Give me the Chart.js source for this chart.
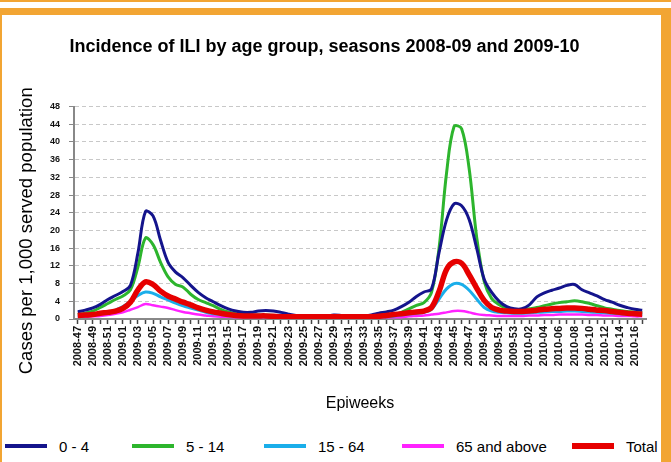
<!DOCTYPE html>
<html>
<head>
<meta charset="utf-8">
<script src="https://cdn.jsdelivr.net/npm/chart.js@4"></script>
<style>
  html, body { margin: 0; padding: 0; background: #fff; }
  body { width: 671px; height: 462px; position: relative; overflow: hidden; font-family: Arial, "Liberation Sans", sans-serif; }
  .frameTop { position: absolute; left: 0; top: 0; width: 671px; height: 2px; background: #f2a533; }
  .frame { position: absolute; left: 0; top: 8px; width: 659px; height: 470px; border-top: 7px solid #f2a533; border-left: 2px solid #f2a533; border-right: 10px solid #f2a533; }
  .chartBox { position: absolute; left: 3px; top: 16px; width: 657px; height: 410px; }
  .legend { position: absolute; left: 0; top: 434px; width: 660px; height: 24px; }
  .legend .item { position: absolute; top: 0; height: 24px; display: flex; align-items: center; font-size: 15px; color: #000; }
  .legend .line { width: 42px; margin-right: 12px; }
</style>
</head>
<body>
<div class="frameTop"></div>
<div class="frame"></div>
<div class="chartBox"><canvas id="iliChart" width="657" height="410"></canvas></div>
<div class="legend" id="iliLegend"></div>

<script>
// --- Adatok: epihetek 2008-47 .. 2010-17 ---
const weeks = [
  '2008-47','2008-48','2008-49','2008-50','2008-51','2008-52',
  '2009-01','2009-02','2009-03','2009-04','2009-05','2009-06','2009-07','2009-08','2009-09','2009-10',
  '2009-11','2009-12','2009-13','2009-14','2009-15','2009-16','2009-17','2009-18','2009-19','2009-20',
  '2009-21','2009-22','2009-23','2009-24','2009-25','2009-26','2009-27','2009-28','2009-29','2009-30',
  '2009-31','2009-32','2009-33','2009-34','2009-35','2009-36','2009-37','2009-38','2009-39','2009-40',
  '2009-41','2009-42','2009-43','2009-44','2009-45','2009-46','2009-47','2009-48','2009-49','2009-50',
  '2009-51','2009-52','2009-53',
  '2010-01','2010-02','2010-03','2010-04','2010-05','2010-06','2010-07','2010-08','2010-09','2010-10',
  '2010-11','2010-12','2010-13','2010-14','2010-15','2010-16','2010-17'
];

const age0to4 = [
  1.6, 2.0, 2.5, 3.3, 4.4, 5.3, 6.2, 7.6, 15.0, 24.3, 23.3, 17.8, 12.8, 10.6, 9.3, 7.6,
  6.0, 4.8, 3.9, 3.0, 2.3, 1.8, 1.5, 1.5, 1.8, 1.9, 1.8, 1.5, 1.1, 0.8, 0.7, 0.6,
  0.6, 0.6, 0.9, 0.8, 0.6, 0.6, 0.7, 0.9, 1.3, 1.6, 2.0, 2.8, 3.8, 5.1, 6.1, 6.8,
  15.0, 22.4, 26.0, 25.6, 22.5, 16.0, 9.0, 6.0, 4.0, 2.8, 2.3, 2.3, 3.2, 5.0, 5.9, 6.5,
  7.0, 7.6, 7.8, 6.6, 5.9, 5.2, 4.4, 3.8, 3.1, 2.6, 2.2, 2.0
];
const age5to14 = [
  1.0, 1.3, 1.8, 2.6, 3.5, 4.4, 5.2, 6.6, 11.8, 18.3, 16.8, 12.8, 9.5, 7.8, 7.2, 5.6,
  4.4, 3.7, 3.0, 2.2, 1.6, 1.2, 1.0, 0.9, 0.9, 0.9, 0.8, 0.7, 0.6, 0.5, 0.5, 0.5,
  0.5, 0.5, 0.6, 0.5, 0.5, 0.5, 0.5, 0.6, 0.7, 0.8, 1.0, 1.5, 2.3, 3.1, 3.7, 6.0,
  16.0, 33.0, 43.5, 43.0, 34.0, 18.5, 8.5, 4.6, 3.2, 2.4, 2.1, 2.0, 2.3, 2.6, 3.0, 3.4,
  3.7, 3.9, 4.1, 3.9, 3.5, 3.0, 2.5, 2.2, 1.9, 1.7, 1.5, 1.4
];
const age15to64 = [
  0.7, 0.8, 1.0, 1.2, 1.5, 2.0, 2.8, 4.0, 5.3, 6.1, 5.8, 5.0, 4.3, 3.6, 3.0, 2.5,
  2.0, 1.5, 1.2, 1.0, 0.8, 0.7, 0.6, 0.5, 0.5, 0.5, 0.5, 0.5, 0.5, 0.5, 0.5, 0.5,
  0.5, 0.5, 0.5, 0.5, 0.5, 0.5, 0.5, 0.5, 0.5, 0.5, 0.7, 0.9, 1.1, 1.3, 1.5, 2.2,
  4.5, 6.8, 8.0, 7.8, 6.5, 4.5, 2.6, 1.8, 1.5, 1.4, 1.3, 1.3, 1.4, 1.5, 1.6, 1.7,
  1.7, 1.8, 1.8, 1.7, 1.6, 1.5, 1.4, 1.3, 1.2, 1.1, 1.0, 1.0
];
const age65plus = [
  0.5, 0.5, 0.6, 0.7, 0.9, 1.2, 1.5, 2.1, 2.7, 3.4, 3.1, 2.8, 2.5, 2.0, 1.6, 1.3,
  1.0, 0.8, 0.6, 0.5, 0.5, 0.4, 0.4, 0.4, 0.4, 0.4, 0.4, 0.4, 0.4, 0.4, 0.4, 0.4,
  0.4, 0.4, 0.4, 0.4, 0.4, 0.4, 0.4, 0.4, 0.4, 0.4, 0.4, 0.4, 0.6, 0.7, 0.8, 1.0,
  1.2, 1.5, 1.8, 1.8, 1.5, 1.1, 0.9, 0.8, 0.7, 0.7, 0.7, 0.7, 0.8, 0.8, 0.9, 0.9,
  1.0, 1.0, 1.0, 1.0, 0.9, 0.9, 0.8, 0.8, 0.7, 0.7, 0.6, 0.6
];
const total = [
  0.8, 0.9, 1.0, 1.3, 1.5, 1.8, 2.4, 3.8, 6.6, 8.4, 7.8, 6.3, 5.2, 4.5, 3.8, 3.2,
  2.5, 2.0, 1.6, 1.3, 1.0, 0.8, 0.7, 0.7, 0.7, 0.7, 0.6, 0.5, 0.5, 0.5, 0.5, 0.5,
  0.5, 0.5, 0.5, 0.5, 0.5, 0.5, 0.5, 0.5, 0.6, 0.8, 1.0, 1.2, 1.4, 1.6, 1.8, 2.6,
  6.2, 11.2, 12.9, 12.6, 10.0, 7.0, 4.2, 2.6, 2.0, 1.8, 1.7, 1.7, 1.8, 2.0, 2.2, 2.3,
  2.4, 2.5, 2.5, 2.4, 2.2, 2.0, 1.9, 1.7, 1.5, 1.3, 1.2, 1.1
];

const yTicks = [0, 4, 8, 12, 16, 20, 24, 28, 32, 36, 40, 44, 48];

// sorozatok: címke, szín, vastagság, rajzolási sorrend, jelmagyarázat helye
const series = [
  { label: '0 - 4',        data: age0to4,   color: '#14148c', width: 3,   order: 2, left: 5 },
  { label: '5 - 14',       data: age5to14,  color: '#2db52d', width: 3,   order: 3, left: 132 },
  { label: '15 - 64',      data: age15to64, color: '#1aaeea', width: 3,   order: 4, left: 264 },
  { label: '65 and above', data: age65plus, color: '#ff22ff', width: 2.5, order: 5, left: 402 },
  { label: 'Total',        data: total,     color: '#e60000', width: 5.5, order: 1, left: 572 }
];

document.addEventListener('DOMContentLoaded', function() {

    const ctx = document.getElementById('iliChart').getContext('2d');

    new Chart(ctx, {
        type: 'line',
        data: {
            labels: weeks,
            datasets: series.map(s => ({
                label: s.label,
                data: s.data,
                borderColor: s.color,
                backgroundColor: s.color,
                borderWidth: s.width,
                pointRadius: 0,
                tension: 0.35,
                order: s.order,
                fill: false
            }))
        },
        options: {
            responsive: false,
            animation: false,
            layout: { padding: { left: 0, right: 14, top: 0, bottom: 0 } },
            plugins: {
                legend: { display: false },
                tooltip: { enabled: false },
                title: {
                    display: true,
                    text: 'Incidence of ILI by age group, seasons 2008-09 and 2009-10',
                    color: '#000',
                    font: { family: 'Arial, "Liberation Sans"', size: 18, weight: 'bold' },
                    padding: { top: 20, bottom: 49 }
                }
            },
            scales: {
                x: {
                    offset: true,
                    afterFit: scale => { scale.height = 107; },
                    grid: { drawOnChartArea: false, tickLength: 5, tickColor: '#444', tickWidth: 1.5 },
                    border: { color: '#888', width: 2 },
                    ticks: {
                        autoSkip: false,
                        minRotation: 90,
                        maxRotation: 90,
                        padding: 2,
                        color: '#111',
                        font: { family: 'Arial, "Liberation Sans"', size: 11, weight: 'bold' },
                        callback: function(value, index) {
                            return index % 2 === 0 ? this.getLabelForValue(value) : '';
                        }
                    },
                    title: {
                        display: true,
                        text: 'Epiweeks',
                        color: '#000',
                        font: { family: 'Arial, "Liberation Sans"', size: 16 },
                        padding: { top: 0, bottom: 13 }
                    }
                },
                y: {
                    min: 0,
                    max: 48,
                    afterFit: scale => { scale.width = 71; },
                    afterBuildTicks: scale => { scale.ticks = yTicks.map(v => ({ value: v })); },
                    grid: { color: '#c8c8c8', tickLength: 5, tickColor: '#888', tickBorderDash: [] },
                    border: { color: '#888', width: 2, dash: [4, 3] },
                    ticks: {
                        padding: 9,
                        color: '#111',
                        font: { family: 'Arial, "Liberation Sans"', size: 9, weight: 'bold' }
                    },
                    title: {
                        display: true,
                        // a záró szóközök lejjebb tolják a feliratot, mint az eredetin
                        text: 'Cases per 1,000 served population       ',
                        color: '#000',
                        font: { family: 'Arial, "Liberation Sans"', size: 18.5 },
                        padding: { top: 13, bottom: 0 }
                    }
                }
            }
        }
    });

    // --- Jelmagyarázat (HTML) ---
    const legend = document.getElementById('iliLegend');
    series.forEach(s => {
        const item = document.createElement('div');
        item.className = 'item';
        item.style.left = s.left + 'px';
        item.innerHTML = `<span class="line" style="height:${s.label === 'Total' ? 6 : 4}px;background:${s.color}"></span>${s.label}`;
        legend.appendChild(item);
    });
});
</script>
</body>
</html>
